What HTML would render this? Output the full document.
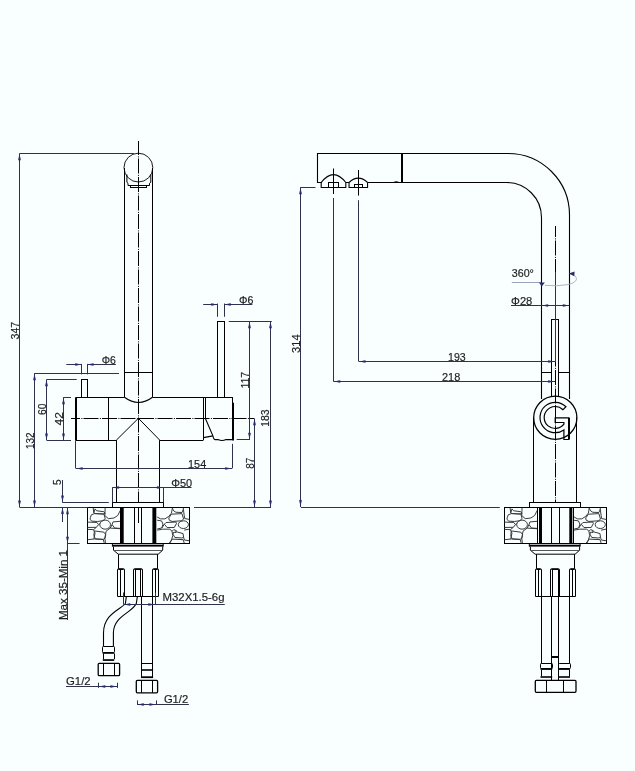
<!DOCTYPE html><html><head><meta charset="utf-8"><style>html,body{margin:0;padding:0;background:#f9feff;overflow:hidden}svg{display:block;will-change:transform;}</style></head><body><svg width="635" height="771" viewBox="0 0 635 771" font-family="&quot;Liberation Sans&quot;, sans-serif">
<rect width="635" height="771" fill="#f9feff"/>
<circle cx="138.4" cy="167.6" r="14.4" stroke="#1a1a1a" stroke-width="1.0" fill="none"/>
<line x1="124.5" y1="168" x2="124.5" y2="397.3" stroke="#000" stroke-width="1" />
<line x1="152.5" y1="168" x2="152.5" y2="397.3" stroke="#000" stroke-width="1" />
<path d="M126.9,174.5 V182.3 L128,183.3 V185.5 H149.5 V183.3 L150.8,182.3 V174.5" stroke="#000" stroke-width="1.0" fill="none" />
<rect x="130.5" y="185.5" width="16" height="2" stroke="#000" stroke-width="1" fill="none"/>
<line x1="124.5" y1="372.5" x2="152.5" y2="372.5" stroke="#000" stroke-width="1" />
<path d="M124.5,397.3 Q138.4,407.8 152.5,397.3" stroke="#000" stroke-width="1.1" fill="none" />
<line x1="76" y1="397.5" x2="124.5" y2="397.5" stroke="#000" stroke-width="1" />
<line x1="152.5" y1="397.5" x2="205.2" y2="397.5" stroke="#000" stroke-width="1" />
<line x1="76" y1="440.5" x2="116.3" y2="440.5" stroke="#000" stroke-width="1" />
<line x1="159.8" y1="440.5" x2="203.3" y2="440.5" stroke="#000" stroke-width="1" />
<line x1="76" y1="397.3" x2="76" y2="440.2" stroke="#000" stroke-width="2" />
<line x1="108.5" y1="397.3" x2="108.5" y2="440.2" stroke="#000" stroke-width="1" />
<line x1="203.5" y1="397.3" x2="203.5" y2="440.2" stroke="#000" stroke-width="1" />
<line x1="205.5" y1="397.3" x2="205.5" y2="418.3" stroke="#000" stroke-width="1" />
<line x1="205.3" y1="397.5" x2="232.8" y2="397.5" stroke="#000" stroke-width="1" />
<line x1="232.5" y1="397.3" x2="232.5" y2="403" stroke="#000" stroke-width="1" />
<line x1="233" y1="402.8" x2="233" y2="440.4" stroke="#000" stroke-width="2" />
<path d="M205.3,418.3 L212.9,435.8 Q213.6,439.6 215.5,439.6 H218 Q222,441.4 226,439.6 H232" stroke="#000" stroke-width="1.1" fill="none" />
<path d="M203.5,437.6 L212.9,435.9" stroke="#000" stroke-width="1.1" fill="none" />
<rect x="217.5" y="321.5" width="7" height="76" stroke="#000" stroke-width="1" fill="none"/>
<rect x="81.5" y="379.5" width="6" height="18" stroke="#000" stroke-width="1" fill="none"/>
<line x1="116.5" y1="440.2" x2="116.5" y2="502.5" stroke="#000" stroke-width="1" />
<line x1="159.5" y1="440.2" x2="159.5" y2="502.5" stroke="#000" stroke-width="1" />
<line x1="116.3" y1="440.2" x2="138.4" y2="418.3" stroke="#000" stroke-width="1.0" />
<line x1="159.8" y1="440.2" x2="138.4" y2="418.3" stroke="#000" stroke-width="1.0" />
<rect x="112.5" y="502.5" width="51" height="5" stroke="#000" stroke-width="1" fill="none"/>
<rect x="87.5" y="507.5" width="102" height="36" stroke="#000" stroke-width="1" fill="none"/>
<g transform="translate(87.5,507.4)" stroke="#3a3a3a" stroke-width="1.0" fill="none" stroke-linejoin="round"><path d="M6.32,5.58 L7.58,1.48 9.15,3.37 16.4,4.32 17.66,5.89 15.77,6.71 6.95,6.08 Z"/><path d="M17.66,0.22 L17.34,8.1 20.81,11.25 26.48,10.62 30.26,8.1 32.78,3.06"/><path d="M2.85,10.3 L3.8,7.47 6.95,6.21 16.4,6.52 17.66,10.93 15.77,13.26 10.1,14.08 4.43,13.77 2.54,12 Z"/><path d="M0.02,14.71 L9.47,15.03 11.04,17.23 8.84,19.94 0.02,20.07"/><path d="M32.78,13.89 L25.53,14.52 24.59,17.23 27.11,20.57 32.78,21.01"/><path d="M6.95,23.53 L16.4,24.79 18.29,27.31 17.53,30.78 15.77,31.91 7.89,31.53 6.32,28.26 Z"/><path d="M32.78,21.33 L22.7,20.7 18.6,23.85 17.34,30.78 17.97,35.5"/><path d="M0.02,32.35 L6.95,31.53 15.77,32.16 16.71,35.5"/><path d="M0.02,21.96 L6,22.27 7.58,25.74 6.32,31.72"/><path d="M22.7,20.7 L24.59,17.23"/><path d="M11.04,17.23 L12.62,16.29"/><path d="M6,22.27 L8.84,19.94"/><path d="M5.69,0.54 L6.32,5.58"/><ellipse cx="17.66" cy="17.23" rx="5.35" ry="4.54"/></g>
<g transform="translate(156.4,507.4)" stroke="#3a3a3a" stroke-width="1.0" fill="none" stroke-linejoin="round"><path d="M0.77,9.54 L4.08,11.47 8.49,11.47 12.35,8.99 15.1,5.68 15.93,0.72"/><path d="M15.93,0.72 L17.31,3.47 19.51,4.85 25.58,5.13 26.96,1.82 26.96,0.44"/><path d="M26.96,1.82 L27.78,7.88 28.34,11.19 33.02,12.02"/><path d="M12.35,10.64 L15.1,6.78 25.58,6.23 27.23,11.74 25.03,13.4 15.66,14.06 12.9,12.84 Z"/><path d="M0.77,12.84 L5.18,13.51 6.56,16.7 5.46,20.56 0.77,21.66"/><path d="M7.94,16.81 L9.59,15.16 19.51,14.61 20.07,16.15 17.86,20.12 10.69,20.12 Z"/><path d="M0.77,22.77 L6.28,21.78 13.45,21.78 15.66,23.87 16.32,28.28 15.1,32.69 12.9,35.72"/><path d="M16.76,25.08 L20.62,24.53 26.68,26.19 27.23,30.04 25.03,30.6 18.41,30.04 16.87,27.29 Z"/><path d="M13.56,35.72 L15.66,31.7 26.68,32.25 27.89,35.72"/><path d="M27.78,22.77 L33.02,21.66"/><path d="M27.23,30.04 L28.06,32.69 33.02,33.35"/><path d="M15.66,23.87 L17.31,22.22 20.07,23.32 18.96,25.52"/><path d="M5.46,20.56 L7.94,16.81"/><path d="M25.03,13.4 L25.58,14.06"/><ellipse cx="26.96" cy="17.25" rx="5.07" ry="3.86"/></g>
<rect x="120" y="507.4" width="3.7" height="36.1" fill="#000"/>
<rect x="152.4" y="507.4" width="3.9" height="36.1" fill="#000"/>
<line x1="134.5" y1="507.4" x2="134.5" y2="543.5" stroke="#000" stroke-width="1" />
<line x1="141.5" y1="507.4" x2="141.5" y2="543.5" stroke="#000" stroke-width="1" />
<line x1="138.5" y1="507.4" x2="138.5" y2="523" stroke="#000" stroke-width="1" />
<rect x="112.4" y="544.7" width="50.8" height="1.9" fill="#000"/>
<path d="M112.4,543.6 V546.6 M163.2,543.6 V546.6" stroke="#000" stroke-width="1.0" fill="none" />
<path d="M113.5,546.6 V550.2 L118.2,554.2 H158.2 L162.7,550.2 V546.6" stroke="#000" stroke-width="1.0" fill="none" />
<line x1="113.5" y1="550.5" x2="162.7" y2="550.5" stroke="#555" stroke-width="1" />
<line x1="118.5" y1="554.2" x2="118.5" y2="568.8" stroke="#000" stroke-width="1" />
<line x1="157.5" y1="554.2" x2="157.5" y2="568.8" stroke="#000" stroke-width="1" />
<line x1="117.5" y1="596.5" x2="158.5" y2="596.5" stroke="#000" stroke-width="1" />
<path d="M117.5,596.5 V569.8 Q117.5,568.7 118.5,568.7 H123.5 Q124.5,568.7 124.5,569.8 V596.5" stroke="#000" stroke-width="1.0" fill="none" />
<line x1="118.3" y1="569.5" x2="123.7" y2="569.5" stroke="#000" stroke-width="1" />
<line x1="120.5" y1="569.5" x2="120.5" y2="596.4" stroke="#000" stroke-width="1" />
<path d="M133.5,596.5 V569.8 Q133.5,568.7 134.5,568.7 H141.5 Q142.5,568.7 142.5,569.8 V596.5" stroke="#000" stroke-width="1.0" fill="none" />
<line x1="134.3" y1="569.5" x2="141.7" y2="569.5" stroke="#000" stroke-width="1" />
<line x1="135.5" y1="569.5" x2="135.5" y2="596.4" stroke="#000" stroke-width="1" />
<line x1="140.5" y1="569.5" x2="140.5" y2="596.4" stroke="#000" stroke-width="1" />
<path d="M152.5,596.5 V569.8 Q152.5,568.7 153.5,568.7 H157.5 Q158.5,568.7 158.5,569.8 V596.5" stroke="#000" stroke-width="1.0" fill="none" />
<line x1="153.3" y1="569.5" x2="157.7" y2="569.5" stroke="#000" stroke-width="1" />
<line x1="155.5" y1="569.5" x2="155.5" y2="596.4" stroke="#000" stroke-width="1" />
<line x1="141.5" y1="596.4" x2="141.5" y2="677.6" stroke="#000" stroke-width="1" />
<line x1="152.5" y1="596.4" x2="152.5" y2="677.6" stroke="#000" stroke-width="1" />
<line x1="141.6" y1="663.5" x2="152.6" y2="663.5" stroke="#000" stroke-width="1" />
<rect x="141.1" y="669.2" width="12" height="1.6" fill="#000"/>
<rect x="141.1" y="676.3" width="12" height="1.8" fill="#000"/>
<path d="M137.3,680.4 H156.6 Q157.6,680.4 157.6,681.6 V691.6 Q157.6,692.8 156.6,692.8 H137.3 Q136.3,692.8 136.3,691.6 V681.6 Q136.3,680.4 137.3,680.4 Z" stroke="#000" stroke-width="1.3" fill="none" />
<line x1="141.5" y1="680.4" x2="141.5" y2="692.8" stroke="#000" stroke-width="1" />
<line x1="152.5" y1="680.4" x2="152.5" y2="692.8" stroke="#000" stroke-width="1" />
<path d="M126.3,596.6 L125.4,603.5 C120,610 103.6,614 103.5,633 V646.3" stroke="#000" stroke-width="1.1" fill="none" />
<path d="M137.3,596.8 L136.3,603.5 C132,613 113.5,616 113.4,633 V646.3" stroke="#000" stroke-width="1.1" fill="none" />
<rect x="102.5" y="646.5" width="12" height="6" stroke="#000" stroke-width="1" fill="none" rx="0.8"/>
<rect x="102.6" y="652.2" width="11.6" height="1.6" fill="#000"/>
<line x1="103.5" y1="653.5" x2="103.5" y2="659.2" stroke="#000" stroke-width="1" />
<line x1="114.5" y1="653.5" x2="114.5" y2="659.2" stroke="#000" stroke-width="1" />
<rect x="102.8" y="659.2" width="11.4" height="1.7" fill="#000"/>
<path d="M99.2,663.3 H118.6 Q119.6,663.3 119.6,664.5 V674.4 Q119.6,675.6 118.6,675.6 H99.2 Q98.2,675.6 98.2,674.4 V664.5 Q98.2,663.3 99.2,663.3 Z" stroke="#000" stroke-width="1.3" fill="none" />
<line x1="103.5" y1="663.3" x2="103.5" y2="675.6" stroke="#000" stroke-width="1" />
<line x1="114.5" y1="663.3" x2="114.5" y2="675.6" stroke="#000" stroke-width="1" />
<line x1="138.5" y1="141" x2="138.5" y2="502.5" stroke="#000" stroke-width="1" stroke-dasharray="15 1.4 1 1.1" stroke-dashoffset="1"/>
<line x1="71" y1="418.5" x2="254" y2="418.5" stroke="#000" stroke-width="1" stroke-dasharray="15 1.4 1 1.1" stroke-dashoffset="6"/>
<line x1="19.5" y1="153.3" x2="19.5" y2="507.4" stroke="#30324c" stroke-width="1" />
<polygon points="19.5,154.1 18.15,159.86 19.5,161.3 20.85,159.86" fill="#282c6a"/>
<polygon points="19.5,506.7 20.85,500.94 19.5,499.5 18.15,500.94" fill="#282c6a"/>
<line x1="19.7" y1="153.5" x2="134" y2="153.5" stroke="#30324c" stroke-width="1" />
<text transform="translate(19.3,330.6) rotate(-90)" text-anchor="middle" font-size="11.2" fill="#1e1e1e" stroke="#1e1e1e" stroke-width="0.18" textLength="17.6" lengthAdjust="spacingAndGlyphs">347</text>
<line x1="19.7" y1="507.5" x2="87.6" y2="507.5" stroke="#30324c" stroke-width="1" />
<line x1="194" y1="507.5" x2="271" y2="507.5" stroke="#30324c" stroke-width="1" />
<line x1="34.5" y1="373.4" x2="34.5" y2="507.4" stroke="#30324c" stroke-width="1" />
<polygon points="34.5,374.1 33.15,379.86 34.5,381.3 35.85,379.86" fill="#282c6a"/>
<polygon points="34.5,506.7 35.85,500.94 34.5,499.5 33.15,500.94" fill="#282c6a"/>
<line x1="34.2" y1="373.5" x2="119" y2="373.5" stroke="#30324c" stroke-width="1" />
<text transform="translate(33.8,440.8) rotate(-90)" text-anchor="middle" font-size="11.2" fill="#1e1e1e" stroke="#1e1e1e" stroke-width="0.18" textLength="16.5" lengthAdjust="spacingAndGlyphs">132</text>
<line x1="46.5" y1="379.4" x2="46.5" y2="440.2" stroke="#30324c" stroke-width="1" />
<polygon points="46.5,380.1 45.15,385.86 46.5,387.3 47.85,385.86" fill="#282c6a"/>
<polygon points="46.5,439.7 47.85,433.94 46.5,432.5 45.15,433.94" fill="#282c6a"/>
<line x1="46.6" y1="379.5" x2="76.7" y2="379.5" stroke="#30324c" stroke-width="1" />
<line x1="46.6" y1="440.5" x2="71" y2="440.5" stroke="#30324c" stroke-width="1" />
<text transform="translate(46.2,409.3) rotate(-90)" text-anchor="middle" font-size="11.2" fill="#1e1e1e" stroke="#1e1e1e" stroke-width="0.18" textLength="11.4" lengthAdjust="spacingAndGlyphs">60</text>
<line x1="63.5" y1="397.4" x2="63.5" y2="440.2" stroke="#30324c" stroke-width="1" />
<polygon points="63.5,398.1 62.15,403.86 63.5,405.3 64.85,403.86" fill="#282c6a"/>
<polygon points="63.5,439.7 64.85,433.94 63.5,432.5 62.15,433.94" fill="#282c6a"/>
<line x1="63.3" y1="397.5" x2="71" y2="397.5" stroke="#30324c" stroke-width="1" />
<text transform="translate(62.9,418.7) rotate(-90)" text-anchor="middle" font-size="11.2" fill="#1e1e1e" stroke="#1e1e1e" stroke-width="0.18" textLength="13.4" lengthAdjust="spacingAndGlyphs">42</text>
<line x1="66.3" y1="364.5" x2="81.6" y2="364.5" stroke="#30324c" stroke-width="1" />
<polygon points="81.3,364.5 75.54,363.15 74.1,364.5 75.54,365.85" fill="#282c6a"/>
<line x1="87.1" y1="364.5" x2="115.9" y2="364.5" stroke="#30324c" stroke-width="1" />
<polygon points="87.4,364.5 93.16,365.85 94.6,364.5 93.16,363.15" fill="#282c6a"/>
<line x1="81.5" y1="363.9" x2="81.5" y2="374.4" stroke="#30324c" stroke-width="1" />
<line x1="87.5" y1="363.9" x2="87.5" y2="374.4" stroke="#30324c" stroke-width="1" />
<text x="101.7" y="363.5" text-anchor="start" font-size="11.2" fill="#1e1e1e" stroke="#1e1e1e" stroke-width="0.18" textLength="14.2" lengthAdjust="spacingAndGlyphs">Φ6</text>
<line x1="203.2" y1="304.5" x2="217.6" y2="304.5" stroke="#30324c" stroke-width="1" />
<polygon points="217.3,304.5 211.54,303.15 210.1,304.5 211.54,305.85" fill="#282c6a"/>
<line x1="224.3" y1="304.5" x2="252.4" y2="304.5" stroke="#30324c" stroke-width="1" />
<polygon points="224.6,304.5 230.36,305.85 231.8,304.5 230.36,303.15" fill="#282c6a"/>
<line x1="217.5" y1="303.5" x2="217.5" y2="316.8" stroke="#30324c" stroke-width="1" />
<line x1="224.5" y1="303.5" x2="224.5" y2="316.8" stroke="#30324c" stroke-width="1" />
<text x="239" y="304.4" text-anchor="start" font-size="11.2" fill="#1e1e1e" stroke="#1e1e1e" stroke-width="0.18" textLength="14.4" lengthAdjust="spacingAndGlyphs">Φ6</text>
<line x1="249.5" y1="321.4" x2="249.5" y2="439.8" stroke="#30324c" stroke-width="1" />
<polygon points="249.5,322.1 248.15,327.86 249.5,329.3 250.85,327.86" fill="#282c6a"/>
<polygon points="249.5,439.1 250.85,433.34 249.5,431.9 248.15,433.34" fill="#282c6a"/>
<line x1="228.8" y1="321.5" x2="271.8" y2="321.5" stroke="#30324c" stroke-width="1" />
<line x1="236.7" y1="439.5" x2="250" y2="439.5" stroke="#30324c" stroke-width="1" />
<text transform="translate(248.8,380.2) rotate(-90)" text-anchor="middle" font-size="11.2" fill="#1e1e1e" stroke="#1e1e1e" stroke-width="0.18" textLength="16.8" lengthAdjust="spacingAndGlyphs">117</text>
<line x1="270.5" y1="321.4" x2="270.5" y2="507.4" stroke="#30324c" stroke-width="1" />
<polygon points="270.5,322.1 269.15,327.86 270.5,329.3 271.85,327.86" fill="#282c6a"/>
<polygon points="270.5,506.7 271.85,500.94 270.5,499.5 269.15,500.94" fill="#282c6a"/>
<text transform="translate(269.4,418.2) rotate(-90)" text-anchor="middle" font-size="11.2" fill="#1e1e1e" stroke="#1e1e1e" stroke-width="0.18" textLength="17.3" lengthAdjust="spacingAndGlyphs">183</text>
<line x1="254.5" y1="418.3" x2="254.5" y2="507.4" stroke="#30324c" stroke-width="1" />
<polygon points="254.5,419 253.15,424.76 254.5,426.2 255.85,424.76" fill="#282c6a"/>
<polygon points="254.5,506.7 255.85,500.94 254.5,499.5 253.15,500.94" fill="#282c6a"/>
<text transform="translate(253.9,463.2) rotate(-90)" text-anchor="middle" font-size="11.2" fill="#1e1e1e" stroke="#1e1e1e" stroke-width="0.18" textLength="11.1" lengthAdjust="spacingAndGlyphs">87</text>
<line x1="75.5" y1="440.2" x2="75.5" y2="468.4" stroke="#30324c" stroke-width="1" />
<line x1="232.5" y1="443.8" x2="232.5" y2="468.4" stroke="#30324c" stroke-width="1" />
<line x1="75.8" y1="468.5" x2="232" y2="468.5" stroke="#30324c" stroke-width="1" />
<polygon points="76.5,468.5 82.26,469.85 83.7,468.5 82.26,467.15" fill="#282c6a"/>
<polygon points="231.3,468.5 225.54,467.15 224.1,468.5 225.54,469.85" fill="#282c6a"/>
<text x="188" y="467.5" text-anchor="start" font-size="11.2" fill="#1e1e1e" stroke="#1e1e1e" stroke-width="0.18" textLength="18.2" lengthAdjust="spacingAndGlyphs">154</text>
<line x1="112.5" y1="487.5" x2="191.5" y2="487.5" stroke="#30324c" stroke-width="1" />
<polygon points="112.8,487.5 118.56,488.85 120,487.5 118.56,486.15" fill="#282c6a"/>
<polygon points="163.2,487.5 157.44,486.15 156,487.5 157.44,488.85" fill="#282c6a"/>
<line x1="112.5" y1="487.2" x2="112.5" y2="502.5" stroke="#30324c" stroke-width="1" />
<line x1="163.5" y1="487.2" x2="163.5" y2="502.5" stroke="#30324c" stroke-width="1" />
<text x="171.2" y="486.8" text-anchor="start" font-size="11.2" fill="#1e1e1e" stroke="#1e1e1e" stroke-width="0.18" textLength="21" lengthAdjust="spacingAndGlyphs">Φ50</text>
<line x1="62.5" y1="480" x2="62.5" y2="502.2" stroke="#30324c" stroke-width="1" />
<polygon points="62.5,501.7 63.85,495.94 62.5,494.5 61.15,495.94" fill="#282c6a"/>
<line x1="62.5" y1="507.8" x2="62.5" y2="522" stroke="#30324c" stroke-width="1" />
<polygon points="62.5,507.8 61.15,513.56 62.5,515 63.85,513.56" fill="#282c6a"/>
<line x1="62.2" y1="502.5" x2="108.8" y2="502.5" stroke="#30324c" stroke-width="1" />
<text transform="translate(61.4,482.2) rotate(-90)" text-anchor="middle" font-size="11.2" fill="#1e1e1e" stroke="#1e1e1e" stroke-width="0.18" textLength="5.6" lengthAdjust="spacingAndGlyphs">5</text>
<line x1="67.5" y1="507.8" x2="67.5" y2="620" stroke="#30324c" stroke-width="1" />
<polygon points="67.5,508.1 66.15,513.86 67.5,515.3 68.85,513.86" fill="#282c6a"/>
<polygon points="67.5,542.9 68.85,537.14 67.5,535.7 66.15,537.14" fill="#282c6a"/>
<line x1="67.6" y1="543.5" x2="79.6" y2="543.5" stroke="#30324c" stroke-width="1" />
<text transform="translate(66.9,585) rotate(-90)" text-anchor="middle" font-size="11.2" fill="#1e1e1e" stroke="#1e1e1e" stroke-width="0.18" textLength="70" lengthAdjust="spacingAndGlyphs">Max 35-Min 1</text>
<line x1="123.5" y1="592.5" x2="123.5" y2="604.2" stroke="#30324c" stroke-width="1" />
<line x1="155.5" y1="592.5" x2="155.5" y2="604.2" stroke="#30324c" stroke-width="1" />
<line x1="123.4" y1="604.5" x2="224.8" y2="604.5" stroke="#30324c" stroke-width="1" />
<polygon points="124.1,604.5 129.86,605.85 131.3,604.5 129.86,603.15" fill="#282c6a"/>
<polygon points="154.5,604.5 148.74,603.15 147.3,604.5 148.74,605.85" fill="#282c6a"/>
<text x="162.5" y="600.6" text-anchor="start" font-size="11.2" fill="#1e1e1e" stroke="#1e1e1e" stroke-width="0.18" textLength="62" lengthAdjust="spacingAndGlyphs">M32X1.5-6g</text>
<line x1="66" y1="686.5" x2="117.3" y2="686.5" stroke="#30324c" stroke-width="1" />
<line x1="98.5" y1="682.7" x2="98.5" y2="687.9" stroke="#30324c" stroke-width="1" />
<line x1="117.5" y1="682.7" x2="117.5" y2="687.9" stroke="#30324c" stroke-width="1" />
<polygon points="99.1,686.5 104.86,687.85 106.3,686.5 104.86,685.15" fill="#282c6a"/>
<polygon points="116.6,686.5 110.84,685.15 109.4,686.5 110.84,687.85" fill="#282c6a"/>
<text x="66" y="685.3" text-anchor="start" font-size="11.2" fill="#1e1e1e" stroke="#1e1e1e" stroke-width="0.18" textLength="24.6" lengthAdjust="spacingAndGlyphs">G1/2</text>
<line x1="137" y1="704.5" x2="188.9" y2="704.5" stroke="#30324c" stroke-width="1" />
<line x1="137.5" y1="700.4" x2="137.5" y2="705" stroke="#30324c" stroke-width="1" />
<line x1="156.5" y1="700.4" x2="156.5" y2="705" stroke="#30324c" stroke-width="1" />
<polygon points="137.7,704.5 143.46,705.85 144.9,704.5 143.46,703.15" fill="#282c6a"/>
<polygon points="155.6,704.5 149.84,703.15 148.4,704.5 149.84,705.85" fill="#282c6a"/>
<text x="163.9" y="703.3" text-anchor="start" font-size="11.2" fill="#1e1e1e" stroke="#1e1e1e" stroke-width="0.18" textLength="24.3" lengthAdjust="spacingAndGlyphs">G1/2</text>
<path d="M402,153.5 H317.5 V182.5 H322" stroke="#000" stroke-width="1.1" fill="none" />
<line x1="402" y1="153.2" x2="402" y2="182.4" stroke="#000" stroke-width="2" />
<path d="M321.2,182.5 Q333.5,166.7 345.8,182.5" stroke="#000" stroke-width="1.1" fill="none" />
<path d="M321.2,182.5 V187.5 H345.8 V182.5" stroke="#000" stroke-width="1.1" fill="none" />
<rect x="328.5" y="182.5" width="10" height="5" stroke="#000" stroke-width="1" fill="none"/>
<path d="M349.05,182.5 Q358.3,173.9 367.55,182.5" stroke="#000" stroke-width="1.1" fill="none" />
<path d="M349.05,182.5 V187.5 H367.55 V182.5" stroke="#000" stroke-width="1.1" fill="none" />
<rect x="354.5" y="184.5" width="8" height="3" stroke="#000" stroke-width="1" fill="none"/>
<line x1="345.8" y1="182.5" x2="349" y2="182.5" stroke="#000" stroke-width="1" />
<line x1="367.5" y1="182.5" x2="402" y2="182.5" stroke="#000" stroke-width="1" />
<path d="M393.8,182.3 Q396.3,180.6 398.8,182.3" stroke="#000" stroke-width="0.8" fill="none" />
<path d="M402,153.5 H508 A61.5,61.5 0 0 1 569.5,215 V399" stroke="#000" stroke-width="1.1" fill="none" />
<path d="M402,182.5 H506.5 A35,35 0 0 1 541.5,217.5 V399" stroke="#000" stroke-width="1.1" fill="none" />
<line x1="541.3" y1="372.5" x2="551.8" y2="372.5" stroke="#000" stroke-width="1" />
<line x1="558.5" y1="372.5" x2="569.6" y2="372.5" stroke="#000" stroke-width="1" />
<rect x="551.5" y="319.5" width="7" height="77" stroke="#000" stroke-width="1" fill="none"/>
<circle cx="555.3" cy="417.8" r="21.6" stroke="#000" stroke-width="1.3" fill="#f9feff"/>
<path d="M565.95,406.75 A15.2,15.2 0 1 0 563.9,429.96 V439.5 H568.6 V417.8 H555.2 V422.5 H563.9 V424.2 A11,11 0 1 1 562.98,409.72 Z" stroke="#000" stroke-width="1.2" fill="none" />
<line x1="569" y1="417.8" x2="569" y2="439.5" stroke="#000" stroke-width="2" />
<line x1="533.5" y1="417.5" x2="533.5" y2="502.5" stroke="#000" stroke-width="1" />
<line x1="576.5" y1="417.5" x2="576.5" y2="502.5" stroke="#000" stroke-width="1" />
<rect x="529.5" y="502.5" width="51" height="5" stroke="#000" stroke-width="1" fill="none"/>
<rect x="504.5" y="507.5" width="102" height="36" stroke="#000" stroke-width="1" fill="none"/>
<g transform="translate(504.4,507.4)" stroke="#3a3a3a" stroke-width="1.0" fill="none" stroke-linejoin="round"><path d="M6.32,5.58 L7.58,1.48 9.15,3.37 16.4,4.32 17.66,5.89 15.77,6.71 6.95,6.08 Z"/><path d="M17.66,0.22 L17.34,8.1 20.81,11.25 26.48,10.62 30.26,8.1 32.78,3.06"/><path d="M2.85,10.3 L3.8,7.47 6.95,6.21 16.4,6.52 17.66,10.93 15.77,13.26 10.1,14.08 4.43,13.77 2.54,12 Z"/><path d="M0.02,14.71 L9.47,15.03 11.04,17.23 8.84,19.94 0.02,20.07"/><path d="M32.78,13.89 L25.53,14.52 24.59,17.23 27.11,20.57 32.78,21.01"/><path d="M6.95,23.53 L16.4,24.79 18.29,27.31 17.53,30.78 15.77,31.91 7.89,31.53 6.32,28.26 Z"/><path d="M32.78,21.33 L22.7,20.7 18.6,23.85 17.34,30.78 17.97,35.5"/><path d="M0.02,32.35 L6.95,31.53 15.77,32.16 16.71,35.5"/><path d="M0.02,21.96 L6,22.27 7.58,25.74 6.32,31.72"/><path d="M22.7,20.7 L24.59,17.23"/><path d="M11.04,17.23 L12.62,16.29"/><path d="M6,22.27 L8.84,19.94"/><path d="M5.69,0.54 L6.32,5.58"/><ellipse cx="17.66" cy="17.23" rx="5.35" ry="4.54"/></g>
<g transform="translate(573.3,507.4)" stroke="#3a3a3a" stroke-width="1.0" fill="none" stroke-linejoin="round"><path d="M0.77,9.54 L4.08,11.47 8.49,11.47 12.35,8.99 15.1,5.68 15.93,0.72"/><path d="M15.93,0.72 L17.31,3.47 19.51,4.85 25.58,5.13 26.96,1.82 26.96,0.44"/><path d="M26.96,1.82 L27.78,7.88 28.34,11.19 33.02,12.02"/><path d="M12.35,10.64 L15.1,6.78 25.58,6.23 27.23,11.74 25.03,13.4 15.66,14.06 12.9,12.84 Z"/><path d="M0.77,12.84 L5.18,13.51 6.56,16.7 5.46,20.56 0.77,21.66"/><path d="M7.94,16.81 L9.59,15.16 19.51,14.61 20.07,16.15 17.86,20.12 10.69,20.12 Z"/><path d="M0.77,22.77 L6.28,21.78 13.45,21.78 15.66,23.87 16.32,28.28 15.1,32.69 12.9,35.72"/><path d="M16.76,25.08 L20.62,24.53 26.68,26.19 27.23,30.04 25.03,30.6 18.41,30.04 16.87,27.29 Z"/><path d="M13.56,35.72 L15.66,31.7 26.68,32.25 27.89,35.72"/><path d="M27.78,22.77 L33.02,21.66"/><path d="M27.23,30.04 L28.06,32.69 33.02,33.35"/><path d="M15.66,23.87 L17.31,22.22 20.07,23.32 18.96,25.52"/><path d="M5.46,20.56 L7.94,16.81"/><path d="M25.03,13.4 L25.58,14.06"/><ellipse cx="26.96" cy="17.25" rx="5.07" ry="3.86"/></g>
<rect x="539" y="507.4" width="3" height="36.1" fill="#000"/>
<rect x="569.3" y="507.4" width="3" height="36.1" fill="#000"/>
<line x1="537.5" y1="507.4" x2="537.5" y2="543.5" stroke="#000" stroke-width="1" />
<line x1="573.5" y1="507.4" x2="573.5" y2="543.5" stroke="#000" stroke-width="1" />
<line x1="551.5" y1="507.4" x2="551.5" y2="543.5" stroke="#000" stroke-width="1" />
<line x1="559.5" y1="507.4" x2="559.5" y2="543.5" stroke="#000" stroke-width="1" />
<rect x="529.3" y="544.7" width="50.8" height="1.9" fill="#000"/>
<path d="M529.3,543.6 V546.6 M580.1,543.6 V546.6" stroke="#000" stroke-width="1.0" fill="none" />
<path d="M530.4,546.6 V550.2 L535.1,554.2 H575.1 L579.6,550.2 V546.6" stroke="#000" stroke-width="1.0" fill="none" />
<line x1="530.4" y1="550.5" x2="579.6" y2="550.5" stroke="#555" stroke-width="1" />
<line x1="536.5" y1="554.2" x2="536.5" y2="568.8" stroke="#000" stroke-width="1" />
<line x1="574.5" y1="554.2" x2="574.5" y2="568.8" stroke="#000" stroke-width="1" />
<line x1="535.5" y1="596.5" x2="575.5" y2="596.5" stroke="#000" stroke-width="1" />
<path d="M535.5,596.5 V569.8 Q535.5,568.7 536.5,568.7 H540.5 Q541.5,568.7 541.5,569.8 V596.5" stroke="#000" stroke-width="1.0" fill="none" />
<line x1="536.3" y1="569.5" x2="540.7" y2="569.5" stroke="#000" stroke-width="1" />
<line x1="538.5" y1="569.5" x2="538.5" y2="596.4" stroke="#000" stroke-width="1" />
<path d="M550.5,596.5 V569.8 Q550.5,568.7 551.5,568.7 H558.5 Q559.5,568.7 559.5,569.8 V596.5" stroke="#000" stroke-width="1.0" fill="none" />
<line x1="551.3" y1="569.5" x2="558.7" y2="569.5" stroke="#000" stroke-width="1" />
<line x1="552.5" y1="569.5" x2="552.5" y2="596.4" stroke="#000" stroke-width="1" />
<line x1="558.5" y1="569.5" x2="558.5" y2="596.4" stroke="#000" stroke-width="1" />
<path d="M569.5,596.5 V569.8 Q569.5,568.7 570.5,568.7 H574.5 Q575.5,568.7 575.5,569.8 V596.5" stroke="#000" stroke-width="1.0" fill="none" />
<line x1="570.3" y1="569.5" x2="574.7" y2="569.5" stroke="#000" stroke-width="1" />
<line x1="572.5" y1="569.5" x2="572.5" y2="596.4" stroke="#000" stroke-width="1" />
<line x1="541.5" y1="596.4" x2="541.5" y2="663.5" stroke="#000" stroke-width="1" />
<line x1="569.5" y1="596.4" x2="569.5" y2="663.5" stroke="#000" stroke-width="1" />
<line x1="551.5" y1="596.4" x2="551.5" y2="680.4" stroke="#000" stroke-width="1" />
<line x1="558.5" y1="596.4" x2="558.5" y2="680.4" stroke="#000" stroke-width="1" />
<line x1="551.5" y1="656.5" x2="558.5" y2="656.5" stroke="#000" stroke-width="1" />
<line x1="551.5" y1="657.5" x2="558.5" y2="657.5" stroke="#000" stroke-width="1" />
<rect x="540.5" y="663.5" width="12" height="5" stroke="#000" stroke-width="1" fill="none" rx="0.8"/>
<rect x="540.5" y="668.3" width="11.7" height="1.6" fill="#000"/>
<line x1="541.5" y1="670" x2="541.5" y2="676.5" stroke="#000" stroke-width="1" />
<line x1="551.5" y1="670" x2="551.5" y2="676.5" stroke="#000" stroke-width="1" />
<rect x="540.5" y="676.2" width="11.7" height="1.6" fill="#000"/>
<rect x="558.5" y="663.5" width="12" height="5" stroke="#000" stroke-width="1" fill="none" rx="0.8"/>
<rect x="558.3" y="668.3" width="11.7" height="1.6" fill="#000"/>
<line x1="558.5" y1="670" x2="558.5" y2="676.5" stroke="#000" stroke-width="1" />
<line x1="569.5" y1="670" x2="569.5" y2="676.5" stroke="#000" stroke-width="1" />
<rect x="558.3" y="676.2" width="11.7" height="1.6" fill="#000"/>
<path d="M536.3,680.4 H575 Q576,680.4 576,681.6 V691.1 Q576,692.3 575,692.3 H536.3 Q535.3,692.3 535.3,691.1 V681.6 Q535.3,680.4 536.3,680.4 Z" stroke="#000" stroke-width="1.3" fill="none" />
<line x1="546.5" y1="680.4" x2="546.5" y2="692.3" stroke="#000" stroke-width="1" />
<line x1="563.5" y1="680.4" x2="563.5" y2="692.3" stroke="#000" stroke-width="1" />
<line x1="555.5" y1="226" x2="555.5" y2="502.5" stroke="#000" stroke-width="1" stroke-dasharray="15 1.4 1 1.1" stroke-dashoffset="4"/>
<line x1="555.5" y1="272" x2="555.5" y2="362" stroke="#30324c" stroke-width="1" />
<line x1="333.5" y1="168.5" x2="333.5" y2="194" stroke="#000" stroke-width="1" />
<line x1="358.5" y1="170" x2="358.5" y2="195.6" stroke="#000" stroke-width="1" />
<line x1="300.5" y1="187.3" x2="300.5" y2="507" stroke="#30324c" stroke-width="1" />
<polygon points="300.5,188 299.15,193.76 300.5,195.2 301.85,193.76" fill="#282c6a"/>
<polygon points="300.5,506.3 301.85,500.54 300.5,499.1 299.15,500.54" fill="#282c6a"/>
<line x1="300.4" y1="187.5" x2="315.5" y2="187.5" stroke="#30324c" stroke-width="1" />
<text transform="translate(300.3,343.6) rotate(-90)" text-anchor="middle" font-size="11.2" fill="#1e1e1e" stroke="#1e1e1e" stroke-width="0.18" textLength="18.6" lengthAdjust="spacingAndGlyphs">314</text>
<line x1="300.9" y1="507.5" x2="499.8" y2="507.5" stroke="#30324c" stroke-width="1" />
<line x1="333.5" y1="198" x2="333.5" y2="381.4" stroke="#30324c" stroke-width="1" />
<line x1="333.4" y1="381.5" x2="555" y2="381.5" stroke="#30324c" stroke-width="1" />
<polygon points="334.1,381.5 339.86,382.85 341.3,381.5 339.86,380.15" fill="#282c6a"/>
<polygon points="554.3,381.5 548.54,380.15 547.1,381.5 548.54,382.85" fill="#282c6a"/>
<text x="442" y="381" text-anchor="start" font-size="11.2" fill="#1e1e1e" stroke="#1e1e1e" stroke-width="0.18" textLength="18.2" lengthAdjust="spacingAndGlyphs">218</text>
<line x1="358.5" y1="200.2" x2="358.5" y2="361.3" stroke="#30324c" stroke-width="1" />
<line x1="358.6" y1="361.5" x2="555" y2="361.5" stroke="#30324c" stroke-width="1" />
<polygon points="359.3,361.5 365.06,362.85 366.5,361.5 365.06,360.15" fill="#282c6a"/>
<polygon points="554.3,361.5 548.54,360.15 547.1,361.5 548.54,362.85" fill="#282c6a"/>
<text x="448" y="361" text-anchor="start" font-size="11.2" fill="#1e1e1e" stroke="#1e1e1e" stroke-width="0.18" textLength="17.7" lengthAdjust="spacingAndGlyphs">193</text>
<line x1="511" y1="305.5" x2="569.3" y2="305.5" stroke="#30324c" stroke-width="1" />
<polygon points="542,305.5 547.76,306.85 549.2,305.5 547.76,304.15" fill="#282c6a"/>
<polygon points="569,305.5 563.24,304.15 561.8,305.5 563.24,306.85" fill="#282c6a"/>
<text x="511" y="304.8" text-anchor="start" font-size="11.2" fill="#1e1e1e" stroke="#1e1e1e" stroke-width="0.18" textLength="21.3" lengthAdjust="spacingAndGlyphs">Φ28</text>
<line x1="511.8" y1="282.5" x2="541" y2="282.5" stroke="#9da2bc" stroke-width="1" />
<polygon points="538.9,282.6 544.8,282.6 541.8,286.6" fill="#282c6a"/>
<path d="M544.8,285.3 Q556,286.6 568,284.6 Q578,282 576.2,277.6 Q575,275 572.5,274.2" stroke="#a8acbc" stroke-width="0.9" fill="none" />
<polygon points="568.7,273.4 574.6,271.4 574.3,276.2" fill="#282c6a"/>
<text x="511.8" y="276.8" text-anchor="start" font-size="11.2" fill="#1e1e1e" stroke="#1e1e1e" stroke-width="0.18" textLength="22.1" lengthAdjust="spacingAndGlyphs">360°</text>
</svg></body></html>
